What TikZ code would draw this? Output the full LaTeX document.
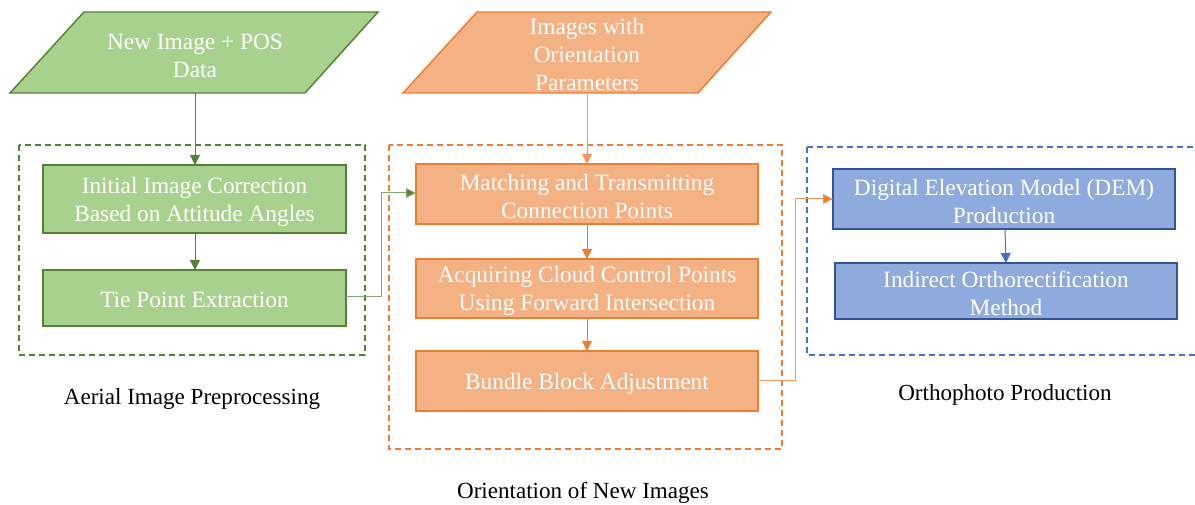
\documentclass[tikz,border=0pt]{standalone}
\usepackage{fontspec}
\setmainfont{Liberation Serif}
\usetikzlibrary{arrows.meta}
\definecolor{gfill}{HTML}{A9D18E}
\definecolor{gline}{HTML}{548235}
\definecolor{ofill}{HTML}{F4B183}
\definecolor{oline}{HTML}{ED7D31}
\definecolor{bfill}{HTML}{8FAADC}
\definecolor{bline}{HTML}{2F5597}
\definecolor{bdash}{HTML}{4472C4}
\tikzset{
  txt/.style={text=white, font=\fontsize{17.5}{21}\selectfont, align=center},
  lbl/.style={text=black, font=\fontsize{17.3}{20}\selectfont},
  gbox/.style={draw=gline, fill=gfill, line width=1.1pt},
  obox/.style={draw=oline, fill=ofill, line width=1.1pt},
  bbox/.style={draw=bline, fill=bfill, line width=1.1pt},
  grp/.style={dashed, dash pattern=on 4.5pt off 3pt, line width=1.1pt},
  conn/.style={line width=0.75pt, -{Triangle[length=7.5pt,width=7.5pt]}},
}
\begin{document}
\begin{tikzpicture}[x=0.75pt,y=-0.75pt]
\useasboundingbox (0,0) rectangle (1195,505);
% group frames
\draw[grp, draw=gline] (19,145) rectangle (365,355);
\draw[grp, draw=oline] (389,145) rectangle (782,449);
\draw[grp, draw=bdash] (807,147) -- (1197,147) (807,147) -- (807,355) -- (1197,355);
% parallelograms
\draw[gbox] (84,12) -- (378,12) -- (305,93) -- (10,93) -- cycle;
\node[txt] (in1) at (195,56) {New Image + POS\\Data};
\coordinate (in1b) at (195,93);
\draw[obox] (477,12) -- (771,12) -- (698,93) -- (403,93) -- cycle;
\node[txt] (in2) at (587,55) {Images with\\Orientation\\Parameters};
\coordinate (in2b) at (587,93);
% green boxes
\path[gbox] (43,165) rectangle (346,233);
\node[txt] (g1) at (194.5,202) {Initial Image Correction\\Based on Attitude Angles};
\coordinate (g1t) at (195,165); \coordinate (g1b) at (195,233);
\path[gbox] (43,270) rectangle (346,326);
\node[txt] (g2) at (194.5,300) {Tie Point Extraction};
\coordinate (g2t) at (195,270); \coordinate (g2r) at (346,297);
% orange boxes
\path[obox] (416,164) rectangle (758,224);
\node[txt] (o1) at (587,197) {Matching and Transmitting\\Connection Points};
\coordinate (o1t) at (587,164); \coordinate (o1b) at (587,224); \coordinate (o1l) at (416,193);
\path[obox] (416,259) rectangle (758,318);
\node[txt] (o2) at (587,291) {Acquiring Cloud Control Points\\Using Forward Intersection};
\coordinate (o2t) at (587,259); \coordinate (o2b) at (587,318);
\path[obox] (416,351) rectangle (758,411);
\node[txt] (o3) at (587,384) {Bundle Block Adjustment};
\coordinate (o3t) at (587,351); \coordinate (o3r) at (758,381);
% blue boxes
\path[bbox] (833,169) rectangle (1175,229);
\node[txt] (b1) at (1004,202) {Digital Elevation Model (DEM)\\Production};
\coordinate (b1b) at (1005,229); \coordinate (b1l) at (833,199);
\path[bbox] (835,263) rectangle (1177,319);
\node[txt] (b2) at (1006,293) {Indirect Orthorectification\\Method};
\coordinate (b2t) at (1006,263);
% connectors
\draw[conn, draw=gline, fill=gline] (in1b) -- (g1t);
\draw[conn, draw=gline, fill=gline] (g1b) -- (g2t);
\draw[conn, draw=gline!70, -{Triangle[length=7.5pt,width=7.5pt,fill=gline]}] (g2r) -| (381,193) -- (o1l);
\draw[conn, draw=oline!80, fill=oline] (in2b) -- (o1t);
\draw[conn, draw=oline, fill=oline] (o1b) -- (o2t);
\draw[conn, draw=oline, fill=oline] (o2b) -- (o3t);
\draw[conn, draw=oline!80, -{Triangle[length=7.5pt,width=7.5pt,fill=oline]}] (o3r) -| (795,199) -- (b1l);
\draw[conn, draw=bdash, fill=bdash] (b1b) -- (b2t);
% labels
\node[lbl] (l1) at (192,399) {Aerial Image Preprocessing};
\node[lbl] (l2) at (583,493) {Orientation of New Images};
\node[lbl] (l3) at (1005,395) {Orthophoto Production};
\end{tikzpicture}
\end{document}
